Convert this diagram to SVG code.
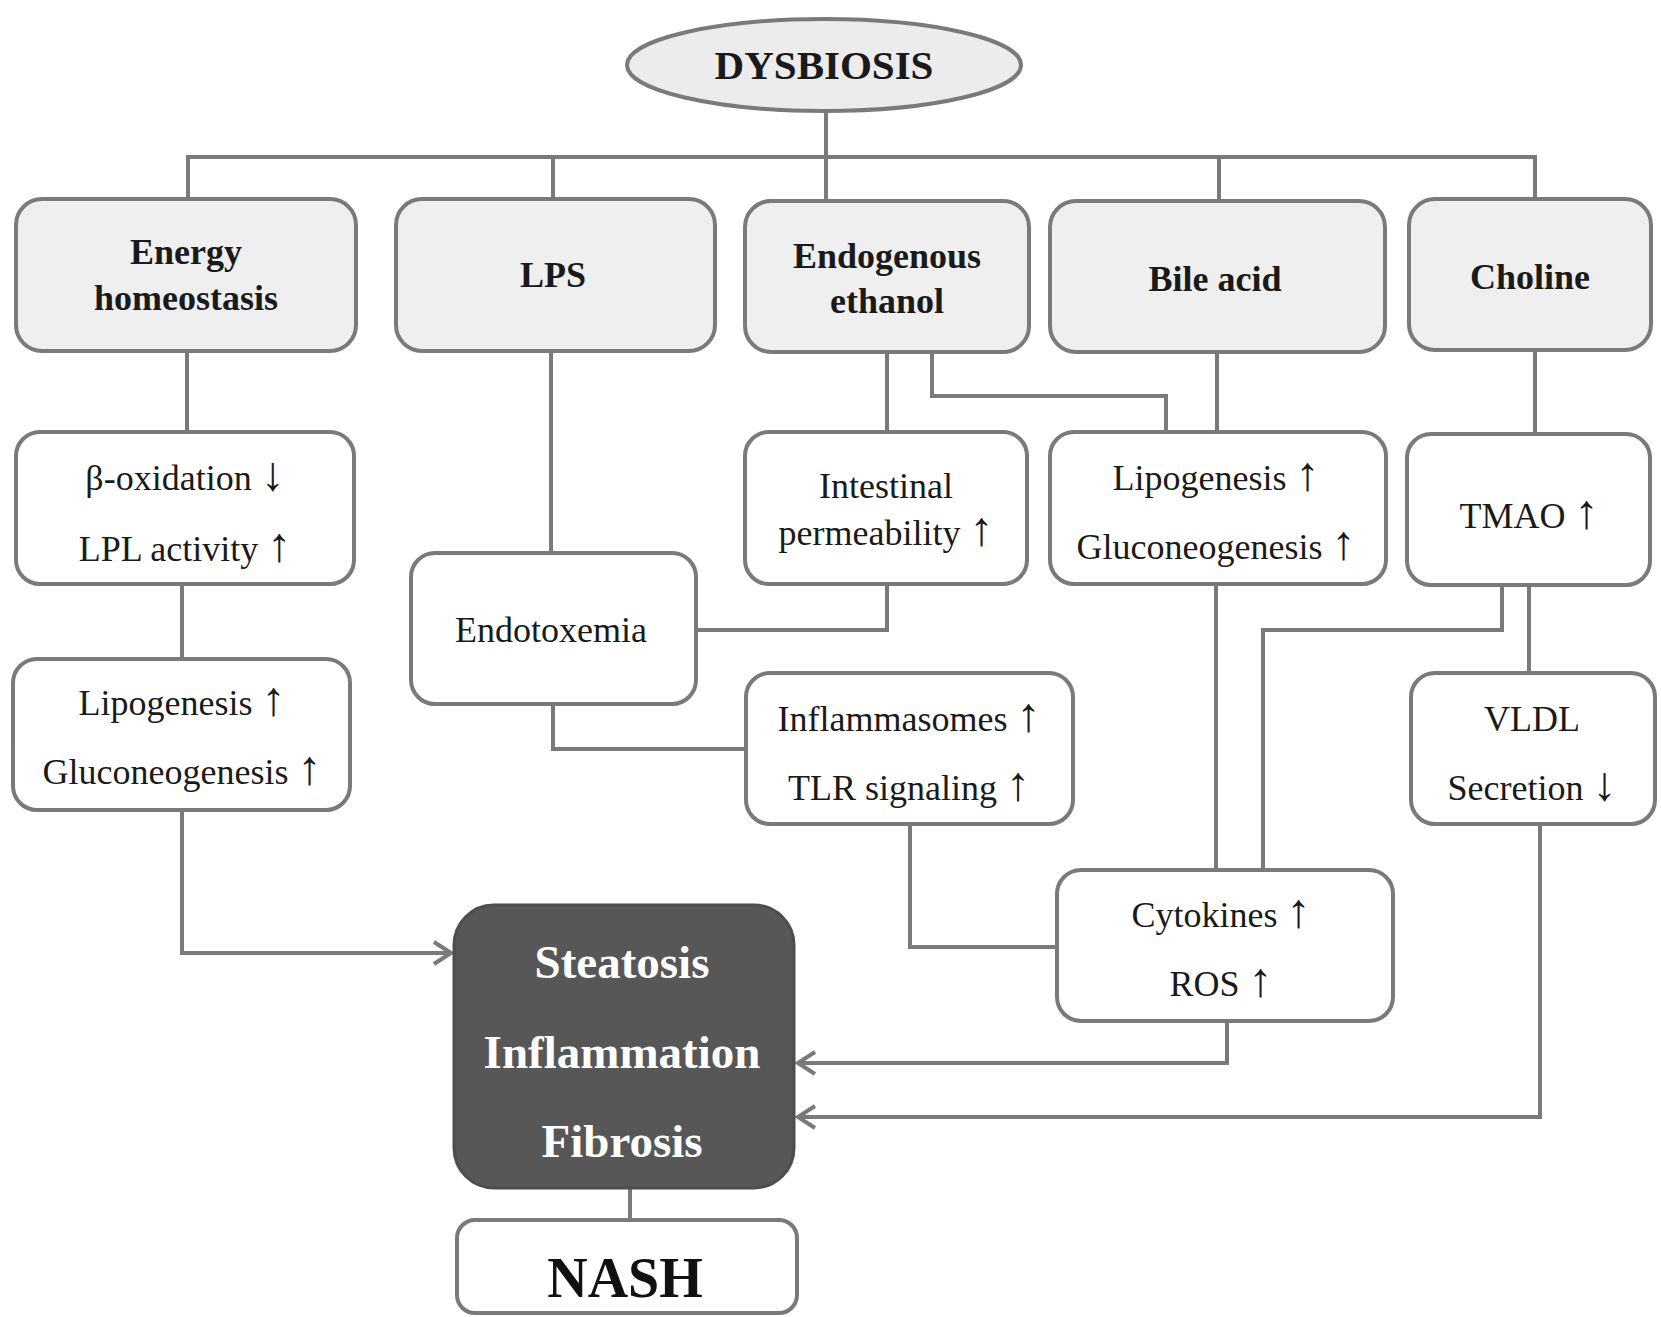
<svg xmlns="http://www.w3.org/2000/svg" width="1661" height="1317" viewBox="0 0 1661 1317">
<style>
.box{fill:#ffffff;stroke:#7a7a7a;stroke-width:4}
.top{fill:#efefef;stroke:#7a7a7a;stroke-width:4}
.dark{fill:#575757;stroke:#4d4d4d;stroke-width:3}
.t{font-family:"Liberation Serif","Times New Roman",serif;font-size:36px;fill:#1a1a1a;text-anchor:middle}
.b{font-family:"Liberation Serif","Times New Roman",serif;font-size:36px;font-weight:bold;fill:#1a1a1a;text-anchor:middle}
.w{font-family:"Liberation Serif","Times New Roman",serif;font-size:47px;font-weight:bold;fill:#ffffff;text-anchor:middle}
.a{font-size:48px}
.c{fill:none;stroke:#7a7a7a;stroke-width:4}
</style>
<defs>
<marker id="arr" markerUnits="userSpaceOnUse" markerWidth="30" markerHeight="30" viewBox="0 0 30 30" refX="27" refY="15" orient="auto">
<path d="M10 4 L27 15 L10 26" fill="none" stroke="#7a7a7a" stroke-width="4"/>
</marker>
</defs>
<rect width="1661" height="1317" fill="#ffffff"/>

<g id="connectors">
<path class="c" d="M826 111 V157"/>
<path class="c" d="M188 201 V157 H1535 V199"/>
<path class="c" d="M553 157 V199"/>
<path class="c" d="M826 157 V201"/>
<path class="c" d="M1219 157 V201"/>
<path class="c" d="M187 351 V432"/>
<path class="c" d="M182 584 V659"/>
<path class="c" d="M182 810 V953 H451" marker-end="url(#arr)"/>
<path class="c" d="M551 351 V553"/>
<path class="c" d="M553 704 V749 H746"/>
<path class="c" d="M696 630 H887 V584"/>
<path class="c" d="M887 352 V432"/>
<path class="c" d="M932 352 V396 H1166 V432"/>
<path class="c" d="M1217 352 V432"/>
<path class="c" d="M1216 584 V870"/>
<path class="c" d="M1535 350 V434"/>
<path class="c" d="M1502 585 V630 H1263 V870"/>
<path class="c" d="M1529 585 V673"/>
<path class="c" d="M910 824 V947 H1057"/>
<path class="c" d="M1227 1021 V1063 H798" marker-end="url(#arr)"/>
<path class="c" d="M1540 824 V1117 H798" marker-end="url(#arr)"/>
<path class="c" d="M630 1188 V1220"/>
</g>

<g id="dysbiosis">
<ellipse cx="824" cy="65" rx="197" ry="46" fill="#ececec" stroke="#7a7a7a" stroke-width="4"/>
<text class="b" x="824" y="79" style="font-size:41px">DYSBIOSIS</text>
</g>

<g id="energy">
<rect class="top" x="16" y="199" width="340" height="152" rx="26"/>
<text class="b" x="186" y="264">Energy</text>
<text class="b" x="186" y="310">homeostasis</text>
</g>
<g id="lps">
<rect class="top" x="396" y="199" width="319" height="152" rx="26"/>
<text class="b" x="553" y="287">LPS</text>
</g>
<g id="ethanol">
<rect class="top" x="745" y="201" width="284" height="151" rx="26"/>
<text class="b" x="887" y="268">Endogenous</text>
<text class="b" x="887" y="313">ethanol</text>
</g>
<g id="bile">
<rect class="top" x="1050" y="201" width="335" height="151" rx="26"/>
<text class="b" x="1215" y="291">Bile acid</text>
</g>
<g id="choline">
<rect class="top" x="1409" y="199" width="242" height="151" rx="26"/>
<text class="b" x="1530" y="289">Choline</text>
</g>

<g id="betaox">
<rect class="box" x="16" y="432" width="338" height="152" rx="24"/>
<text class="t" x="185" y="490">β-oxidation <tspan class="a">↓</tspan></text>
<text class="t" x="185" y="561">LPL activity <tspan class="a">↑</tspan></text>
</g>
<g id="intestinal">
<rect class="box" x="745" y="432" width="282" height="152" rx="24"/>
<text class="t" x="886" y="498">Intestinal</text>
<text class="t" x="886" y="545">permeability <tspan class="a">↑</tspan></text>
</g>
<g id="bilelipo">
<rect class="box" x="1050" y="432" width="336" height="152" rx="24"/>
<text class="t" x="1216" y="490">Lipogenesis <tspan class="a">↑</tspan></text>
<text class="t" x="1216" y="559">Gluconeogenesis <tspan class="a">↑</tspan></text>
</g>
<g id="tmao">
<rect class="box" x="1407" y="434" width="243" height="151" rx="24"/>
<text class="t" x="1529" y="528">TMAO <tspan class="a">↑</tspan></text>
</g>

<g id="endotoxemia">
<rect class="box" x="411" y="553" width="285" height="151" rx="24"/>
<text class="t" x="551" y="642">Endotoxemia</text>
</g>
<g id="lipoleft">
<rect class="box" x="13" y="659" width="337" height="151" rx="24"/>
<text class="t" x="182" y="715">Lipogenesis <tspan class="a">↑</tspan></text>
<text class="t" x="182" y="784">Gluconeogenesis <tspan class="a">↑</tspan></text>
</g>
<g id="inflammasomes">
<rect class="box" x="746" y="673" width="327" height="151" rx="24"/>
<text class="t" x="909" y="731">Inflammasomes <tspan class="a">↑</tspan></text>
<text class="t" x="909" y="800">TLR signaling <tspan class="a">↑</tspan></text>
</g>
<g id="vldl">
<rect class="box" x="1411" y="673" width="244" height="151" rx="24"/>
<text class="t" x="1532" y="731">VLDL</text>
<text class="t" x="1532" y="800">Secretion <tspan class="a">↓</tspan></text>
</g>
<g id="cytokines">
<rect class="box" x="1057" y="870" width="336" height="151" rx="24"/>
<text class="t" x="1221" y="927">Cytokines <tspan class="a">↑</tspan></text>
<text class="t" x="1221" y="996">ROS <tspan class="a">↑</tspan></text>
</g>

<g id="outcome">
<rect class="dark" x="454" y="905" width="340" height="283" rx="40"/>
<text class="w" x="622" y="978">Steatosis</text>
<text class="w" x="622" y="1068">Inflammation</text>
<text class="w" x="622" y="1157">Fibrosis</text>
</g>
<g id="nash">
<rect class="box" x="457" y="1220" width="340" height="93" rx="18"/>
<text class="b" x="625" y="1297" style="font-size:56px;fill:#111">NASH</text>
</g>
</svg>
